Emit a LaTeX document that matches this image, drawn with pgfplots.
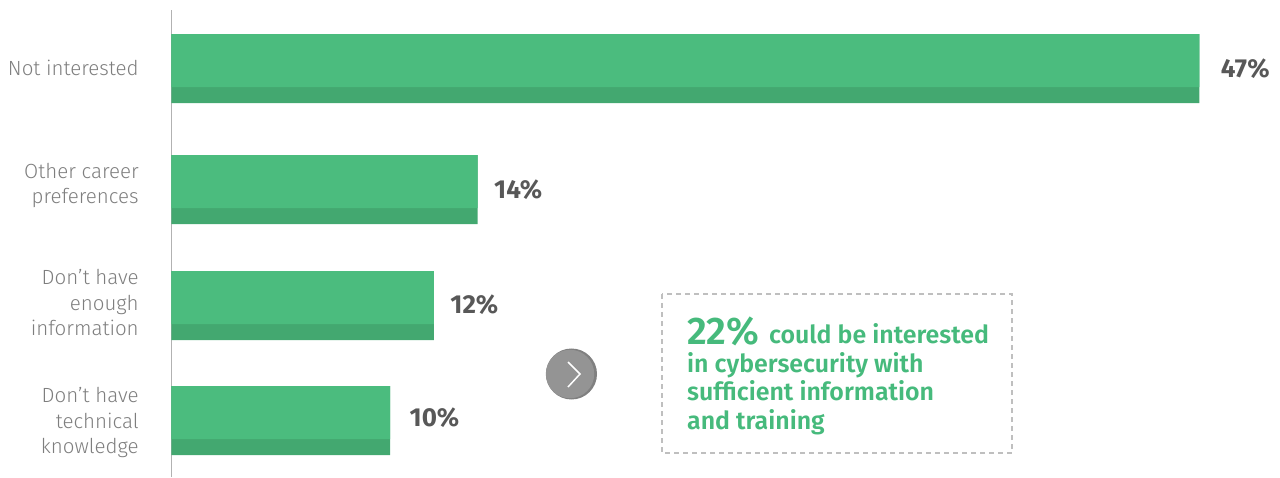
\documentclass[border=0pt]{standalone}
\usepackage{pgfplots}
\pgfplotsset{compat=1.18}
\usepackage{fontspec}
\setmainfont{Fira Sans}[UprightFont=* Light,BoldFont=* SemiBold]
\newfontfamily\valfont{Fira Sans}[UprightFont=* Bold]
\definecolor{barlight}{HTML}{4BBC7E}
\definecolor{bardark}{HTML}{43A870}
\definecolor{txtgray}{HTML}{7E7E7E}
\definecolor{valgray}{HTML}{585858}
\definecolor{txtgreen}{HTML}{46BA7C}
\begin{document}
\begin{tikzpicture}[x=1pt,y=1pt]
\path[use as bounding box] (0,0) rectangle (1280,477);
\begin{axis}[
  at={(171.5pt,0pt)},anchor=south west,
  scale only axis,width=1108.5pt,height=467pt,
  xmin=0,xmax=50.69,ymin=0,ymax=467,
  y dir=reverse,clip=false,
  axis y line*=left,axis x line=none,
  y axis line style={draw=black!30,line width=1.2pt,-},
  xtick=\empty,
  ytick={57.5,175.5,292.5,412.5},
  yticklabels={{Not interested},{Other career\\preferences},{Don't have\\enough\\information},{Don't have\\technical\\knowledge}},
  yticklabel style={align=right,text=txtgray,font=\fontsize{20.5}{25.5}\selectfont,xshift=-25pt},
  tick style={draw=none},
  xbar,
]
\addplot[draw=none,fill=bardark,bar width=69pt,bar shift=0pt,
  visualization depends on=\thisrow{dx}\as\dx,
  visualization depends on=\thisrow{dy}\as\dy,
  nodes near coords={\pgfmathprintnumber{\pgfplotspointmeta}\%},
  point meta=x,
  nodes near coords style={/pgf/number format/assume math mode=true,font=\fontsize{26}{30}\selectfont\valfont,text=valgray,anchor=west,xshift=\dx pt,yshift=\dy pt},
  ] table[x=v,y=p] {
v p dx dy
47 58.5 18 0
14 179.5 13 0
12 295.5 13 1
10 410.5 16 2.5
};
\addplot[draw=none,fill=barlight,bar width=53pt,bar shift=8pt] coordinates {(47,58.5) (14,179.5) (12,295.5) (10,410.5)};
\end{axis}
% callout
\draw[draw=black!25,line width=1.1pt,dash pattern=on 5pt off 4pt] (662,183) rectangle (1012,24);
\node[anchor=base west,inner sep=0pt,text=txtgreen] at (687,132) {\fontsize{38.5}{42}\selectfont\bfseries 22\%};
\node[anchor=base west,inner sep=0pt,text=txtgreen,font=\fontsize{24.9}{28}\selectfont\bfseries] at (769,133.5) {could be interested};
\node[anchor=base west,inner sep=0pt,text=txtgreen,font=\fontsize{24.9}{28}\selectfont\bfseries] at (687,105) {in cybersecurity with};
\node[anchor=base west,inner sep=0pt,text=txtgreen,font=\fontsize{24.9}{28}\selectfont\bfseries] at (687,77) {sufficient information};
\node[anchor=base west,inner sep=0pt,text=txtgreen,font=\fontsize{24.9}{28}\selectfont\bfseries] at (687,48) {and training};
% arrow badge
\fill[black!50] (571.5,103) circle (25.5);
\fill[black!42] (570,103) circle (24.2);
\draw[white,line width=1.5pt] (568,115) -- (580,103) -- (568,90);
\end{tikzpicture}
\end{document}
